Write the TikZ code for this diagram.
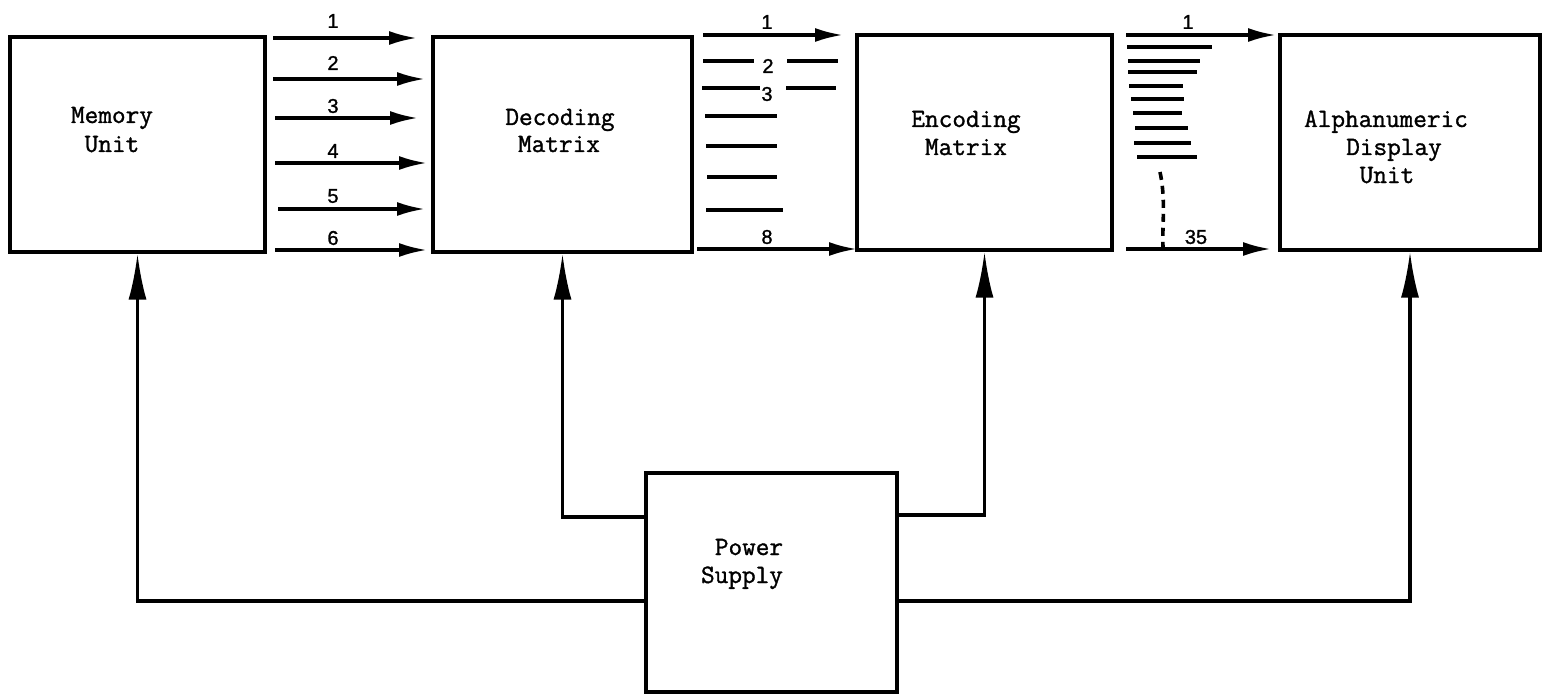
\documentclass[tikz,border=0pt]{standalone}
\usepackage{fontspec}
\setmainfont{Liberation Serif}
\newfontfamily\boxfont[FakeBold=1.2]{Latin Modern Mono}
\newfontfamily\numfont[FakeBold=1.2]{Liberation Sans}
\usetikzlibrary{arrows.meta}
\begin{document}
\begin{tikzpicture}[x=1pt,y=-1pt,
  box/.style={draw,line width=3.2pt,inner sep=0pt},
  lbl/.style={font=\boxfont\fontsize{26.5}{29}\selectfont,anchor=base,inner sep=0pt},
  num/.style={font=\numfont\fontsize{20}{22}\selectfont,inner sep=0pt},
  bus/.style={line width=3.4pt},
  harrow/.style={line width=3.2pt,-{Latex[length=28pt,width=14pt]}},
  varrow/.style={line width=3.2pt,-{Latex[length=46pt,width=18pt]}},
  wire/.style={line width=3.2pt}]
\useasboundingbox (0,0) rectangle (1542,698);
% boxes
\node[box,minimum width=255pt,minimum height=215pt] (mem) at (137.5,144.5) {};
\node[box,minimum width=259pt,minimum height=215pt] (dec) at (562.5,144.5) {};
\node[box,minimum width=255pt,minimum height=215pt] (enc) at (984.5,142.5) {};
\node[box,minimum width=260pt,minimum height=215pt] (alp) at (1410,142.5) {};
\node[box,minimum width=251pt,minimum height=219pt] (ps) at (771.5,582.5) {};
% box labels
\node[lbl] (memA) at (112,123) {Memory};
\node[lbl] (memB) at (112,152) {Unit};
\node[lbl] (decA) at (560,125) {Decoding};
\node[lbl] (decB) at (559,152) {Matrix};
\node[lbl] (encA) at (966,127) {Encoding};
\node[lbl] (encB) at (966,155) {Matrix};
\node[lbl] (alpA) at (1386,127) {Alphanumeric};
\node[lbl] (alpB) at (1394,155) {Display};
\node[lbl] (alpC) at (1387,183) {Unit};
\node[lbl] (psA) at (749,555) {Power};
\node[lbl] (psB) at (742,583) {Supply};
% memory -> decoding bus
\draw[harrow] (273,38) -- (417,38);
\draw[harrow] (273,79) -- (425,79);
\draw[harrow] (275,118) -- (418,118);
\draw[harrow] (275,163) -- (427,163);
\draw[harrow] (278,209) -- (425,209);
\draw[harrow] (275,250) -- (427,250);
\node[num] (m1) at (333,21) {1};
\node[num] (m2) at (333,63) {2};
\node[num] (m3) at (333,106) {3};
\node[num] (m4) at (333,151) {4};
\node[num] (m5) at (333,196) {5};
\node[num] (m6) at (333,238) {6};
% decoding -> encoding bus
\draw[harrow] (703,35) -- (843,35);
\draw[bus] (703,61) -- (754,61);
\draw[bus] (787,61) -- (838,61);
\draw[bus] (702,88) -- (760,88);
\draw[bus] (786,88) -- (836,88);
\draw[bus] (705,116) -- (777,116);
\draw[bus] (706,146) -- (777,146);
\draw[bus] (707,177) -- (777,177);
\draw[bus] (706,210) -- (783,210);
\draw[harrow] (697,249) -- (857,249);
\node[num] (d1) at (767,22) {1};
\node[num] (d2) at (768,66) {2};
\node[num] (d3) at (767,94) {3};
\node[num] (d8) at (767,237) {8};
% encoding -> display bus
\draw[harrow] (1126,35) -- (1276,35);
\draw[bus] (1127,47) -- (1212,47);
\draw[bus] (1128,61) -- (1200,61);
\draw[bus] (1128,72) -- (1197,72);
\draw[bus] (1129,86) -- (1183,86);
\draw[bus] (1131,99) -- (1184,99);
\draw[bus] (1133,113) -- (1182,113);
\draw[bus] (1135,128) -- (1188,128);
\draw[bus] (1134,143) -- (1191,143);
\draw[bus] (1137,157) -- (1197,157);
\draw[line width=3.6pt,dash pattern=on 8pt off 6pt] (1160,172) .. controls (1166,200) and (1162,225) .. (1163,247);
\draw[harrow] (1126,249) -- (1271,249);
\node[num] (e1) at (1188,22) {1};
\node[num] (e35) at (1196,237) {35};
% power supply wiring
\coordinate (yhi) at (0,517);
\coordinate (yhr) at (0,515);
\coordinate (ylo) at (0,601);
\draw[varrow] (ps.west |- yhi) -| (dec.south);
\draw[varrow] (ps.east |- yhr) -| (enc.south);
\draw[varrow] (ps.west |- ylo) -| (mem.south);
\draw[varrow] (ps.east |- ylo) -| (alp.south);
\end{tikzpicture}
\end{document}
